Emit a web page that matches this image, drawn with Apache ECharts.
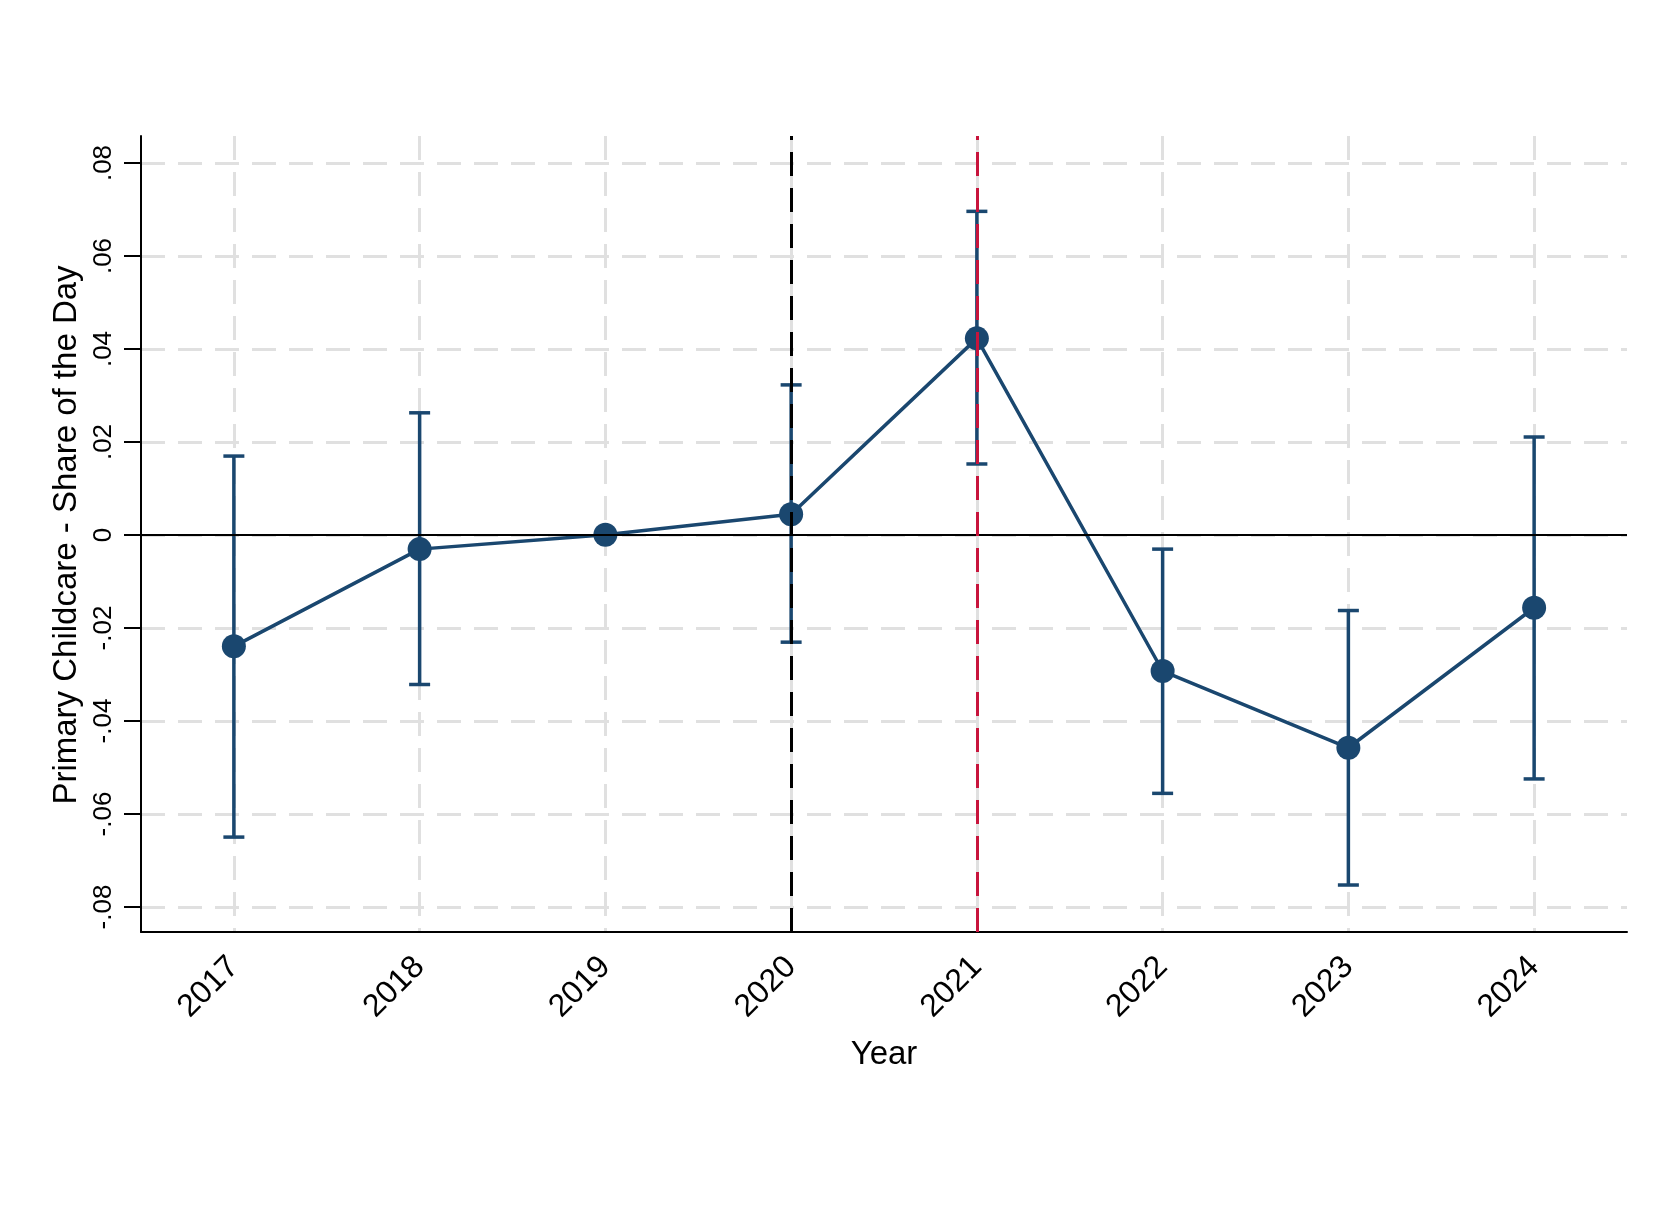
<!DOCTYPE html>
<html><head><meta charset="utf-8">
<script src="https://cdn.jsdelivr.net/npm/echarts@6/dist/echarts.min.js"></script>
<style>html,body{margin:0;padding:0;background:#fff}#c{width:1672px;height:1216px}</style>
</head><body><div id="c"></div>
<script>
// ---- data ----
const years = ['2017','2018','2019','2020','2021','2022','2023','2024'];
const estimates = [-0.0240, -0.0031, 0.0000, 0.0044, 0.0422, -0.0293, -0.0458, -0.0157];
const ciLower   = [-0.0650, -0.0322, null, -0.0231, 0.0152, -0.0556, -0.0753, -0.0525];
const ciUpper   = [ 0.0169,  0.0262, null,  0.0322, 0.0695, -0.0031, -0.0163,  0.0210];
const yTickMin = -0.08, yTickMax = 0.08, yTickStep = 0.02;
const yAxisMin = -0.0854, yAxisMax = 0.0857;
const refYearBlack = '2020';
const refYearRed = '2021';
const xTitle = 'Year';
const yTitle = 'Primary Childcare - Share of the Day';

const navy = '#1a476f';
const red = '#c8143c';
const gridGray = '#e0e0e0';
const FONT = "'Liberation Sans', Arial, Helvetica, sans-serif";

const ciData = [];
years.forEach((y, i) => { if (ciLower[i] !== null) ciData.push([i, ciLower[i], ciUpper[i]]); });

function fmt(v) {
  const r = Math.round(v * 100) / 100;
  if (r === 0) return '0';
  return (r < 0 ? '-' : '') + Math.abs(r).toFixed(2).replace(/^0/, '');
}

const chart = echarts.init(document.getElementById('c'), null, {renderer: 'canvas'});
chart.setOption({
  animation: false,
  backgroundColor: '#fff',
  grid: [
    {left: 141, right: 45, top: 136, bottom: 284},
    {left: 141, right: 45, top: 163, bottom: 309}
  ],
  xAxis: [
    {
      gridIndex: 0, type: 'category', data: years, boundaryGap: true,
      axisLine: {onZero: false, lineStyle: {color: '#000', width: 2}},
      axisTick: {alignWithLabel: true, length: 17, lineStyle: {color: '#000', width: 2}},
      axisLabel: {rotate: 45, fontSize: 32, color: '#000', fontFamily: FONT, margin: 30},
      splitLine: {show: true, alignWithLabel: true, lineStyle: {color: gridGray, width: 3, type: [24, 12]}},
      name: xTitle, nameLocation: 'middle', nameGap: 106,
      nameTextStyle: {fontSize: 33, color: '#000', fontFamily: FONT}
    },
    {gridIndex: 1, type: 'category', data: years, show: false}
  ],
  yAxis: [
    {
      gridIndex: 0, type: 'value', min: yAxisMin, max: yAxisMax,
      axisLine: {show: true, lineStyle: {color: '#000', width: 2}},
      axisTick: {show: false}, axisLabel: {show: false}, splitLine: {show: false}
    },
    {
      gridIndex: 1, type: 'value', min: yTickMin, max: yTickMax, interval: yTickStep,
      axisLine: {show: false},
      axisTick: {show: true, length: 17, lineStyle: {color: '#000', width: 2}},
      axisLabel: {rotate: 90, fontSize: 26, color: '#000', fontFamily: FONT, margin: 24, formatter: fmt},
      splitLine: {show: true, lineStyle: {color: gridGray, width: 3, type: [24, 13]}},
      name: yTitle, nameLocation: 'middle', nameGap: 55,
      nameTextStyle: {fontSize: 33, color: '#000', fontFamily: FONT}
    }
  ],
  series: [
    {
      type: 'line', xAxisIndex: 0, yAxisIndex: 0, data: estimates,
      symbol: 'none', lineStyle: {opacity: 0}, silent: true, z: 2,
      markLine: {
        silent: true, symbol: ['none', 'none'], label: {show: false}, animation: false,
        emphasis: {disabled: true},
        data: [
          {yAxis: 0, lineStyle: {color: '#000', width: 2, type: 'solid'}},
          {xAxis: refYearBlack, lineStyle: {color: '#000', width: 3, type: [24, 12]}},
          {xAxis: refYearRed, lineStyle: {color: red, width: 3, type: [24, 12]}}
        ]
      }
    },
    {
      type: 'custom', xAxisIndex: 0, yAxisIndex: 0, data: ciData, z: 3, silent: true,
      renderItem: function (params, api) {
        const x = api.value(0);
        const lo = api.coord([x, api.value(1)]);
        const hi = api.coord([x, api.value(2)]);
        const hw = 10.5;
        const st = {stroke: navy, lineWidth: 3.5};
        return {type: 'group', children: [
          {type: 'line', shape: {x1: lo[0], y1: lo[1], x2: hi[0], y2: hi[1]}, style: st},
          {type: 'line', shape: {x1: lo[0] - hw, y1: lo[1], x2: lo[0] + hw, y2: lo[1]}, style: st},
          {type: 'line', shape: {x1: hi[0] - hw, y1: hi[1], x2: hi[0] + hw, y2: hi[1]}, style: st}
        ]};
      }
    },
    {
      type: 'line', xAxisIndex: 0, yAxisIndex: 0, data: estimates, z: 4,
      symbol: 'circle', symbolSize: 24, showAllSymbol: true,
      lineStyle: {color: navy, width: 3.5}, itemStyle: {color: navy}
    }
  ]
});
</script></body></html>
